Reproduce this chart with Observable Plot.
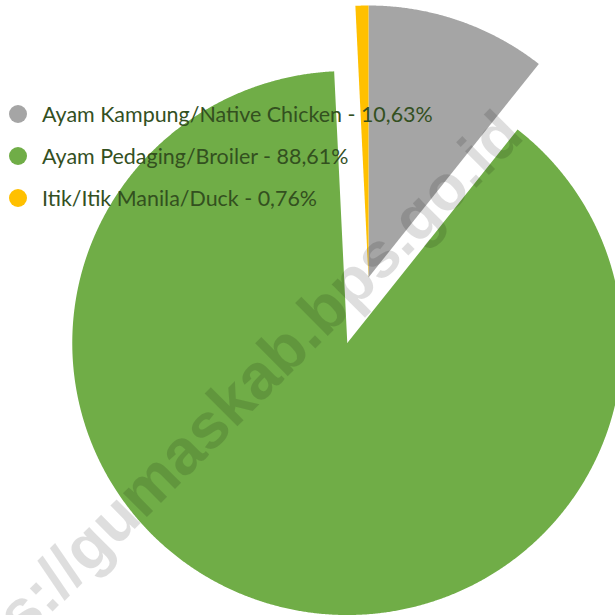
<!DOCTYPE html>
<html>
<head>
<meta charset="utf-8">
<script src="https://cdn.jsdelivr.net/npm/d3@7"></script>
<script src="https://cdn.jsdelivr.net/npm/@observablehq/plot@0.6"></script>
<style>
  html, body { margin: 0; padding: 0; background: #fff; }
  #wrap { position: relative; width: 615px; height: 615px; overflow: hidden; }
  #chart svg { display: block; }
  .legend { position: absolute; left: 0; top: 0; font-family: Lato, "Open Sans", sans-serif; color: #33501f; }
  .row { position: absolute; left: 0; height: 30px; white-space: nowrap; }
  .sw { position: absolute; left: 9px; width: 18px; height: 18px; border-radius: 50%; }
  .lbl { position: absolute; left: 42px; line-height: 30px; }
  .wm { position: absolute; font-family: "Liberation Sans", Arial, sans-serif; font-weight: bold;
        color: rgba(0,0,0,0.13); white-space: nowrap; transform-origin: 100% 100%; line-height: 1; }
</style>
</head>
<body>
<div id="wrap"><div id="chart"></div></div>
<script>
// ---- data ----
const categories = ["Ayam Kampung/Native Chicken", "Ayam Pedaging/Broiler", "Itik/Itik Manila/Duck"];
const values = [10.63, 88.61, 0.76];
const colors = ["#A5A5A5", "#70AD47", "#FFC000"];
const explodedCategory = "Ayam Pedaging/Broiler";
const watermark = "https://gumaskab.bps.go.id";

// ---- layout ----
const W = 615, H = 615;
const cx = 368, cy = 277, rx = 275, ry = 272;
const explodeDist = 0.253;

const pie = d3.pie().sort(null).value((d, i) => values[i]);
const arcs = pie(categories);

const pts = [];
arcs.forEach((a, i) => {
  const cat = categories[i];
  const mid = (a.startAngle + a.endAngle) / 2;
  const off = cat === explodedCategory ? explodeDist : 0;
  const ox = off * Math.sin(mid), oy = off * Math.cos(mid);
  pts.push({cat, x: ox, y: oy});
  const n = Math.max(2, Math.ceil((a.endAngle - a.startAngle) / (Math.PI / 720)));
  for (let k = 0; k <= n; k++) {
    const t = a.startAngle + (a.endAngle - a.startAngle) * k / n;
    pts.push({cat, x: ox + Math.sin(t), y: oy + Math.cos(t)});
  }
});

const chart = Plot.plot({
  width: W, height: H,
  margin: 0,
  x: {domain: [-1, 1], range: [cx - rx, cx + rx], axis: null},
  y: {domain: [-1, 1], range: [cy + ry, cy - ry], axis: null},
  color: {domain: categories, range: colors},
  marks: categories.map((c, i) =>
    Plot.line(pts.filter(p => p.cat === c), {x: "x", y: "y", fill: colors[i], stroke: "none", curve: "linear-closed"})
  )
});
document.getElementById("chart").appendChild(chart);

// ---- legend ----
const wrap = document.getElementById("wrap");
const legend = document.createElement("div");
legend.className = "legend";
wrap.appendChild(legend);
const fmt = v => v.toFixed(2).replace(".", ",") + "%";
const rowCenters = [114, 156, 198];
const ctx = document.createElement("canvas").getContext("2d");
const fam = 'Lato, "Open Sans", sans-serif';
ctx.font = `20px ${fam}`;
const w20 = ctx.measureText(`${categories[0]} - ${fmt(values[0])}`).width;
const fs = 20 * 391 / w20;
categories.forEach((c, i) => {
  const row = document.createElement("div");
  row.className = "row";
  row.style.top = (rowCenters[i] - 15) + "px";
  row.innerHTML = `<span class="sw" style="top:6px;background:${colors[i]}"></span><span class="lbl" style="font-size:${fs}px">${c} - ${fmt(values[i])}</span>`;
  legend.appendChild(row);
});

// ---- watermark ----
const wm = document.createElement("div");
wm.className = "wm";
wm.textContent = watermark;
wm.style.fontSize = "64px";
wrap.appendChild(wm);
const ww = wm.offsetWidth, wh = wm.offsetHeight;
const endX = 533, endY = 145;
wm.style.left = (endX - ww) + "px";
wm.style.top = (endY - wh) + "px";
wm.style.transform = "rotate(-45deg)";
</script>
</body>
</html>
